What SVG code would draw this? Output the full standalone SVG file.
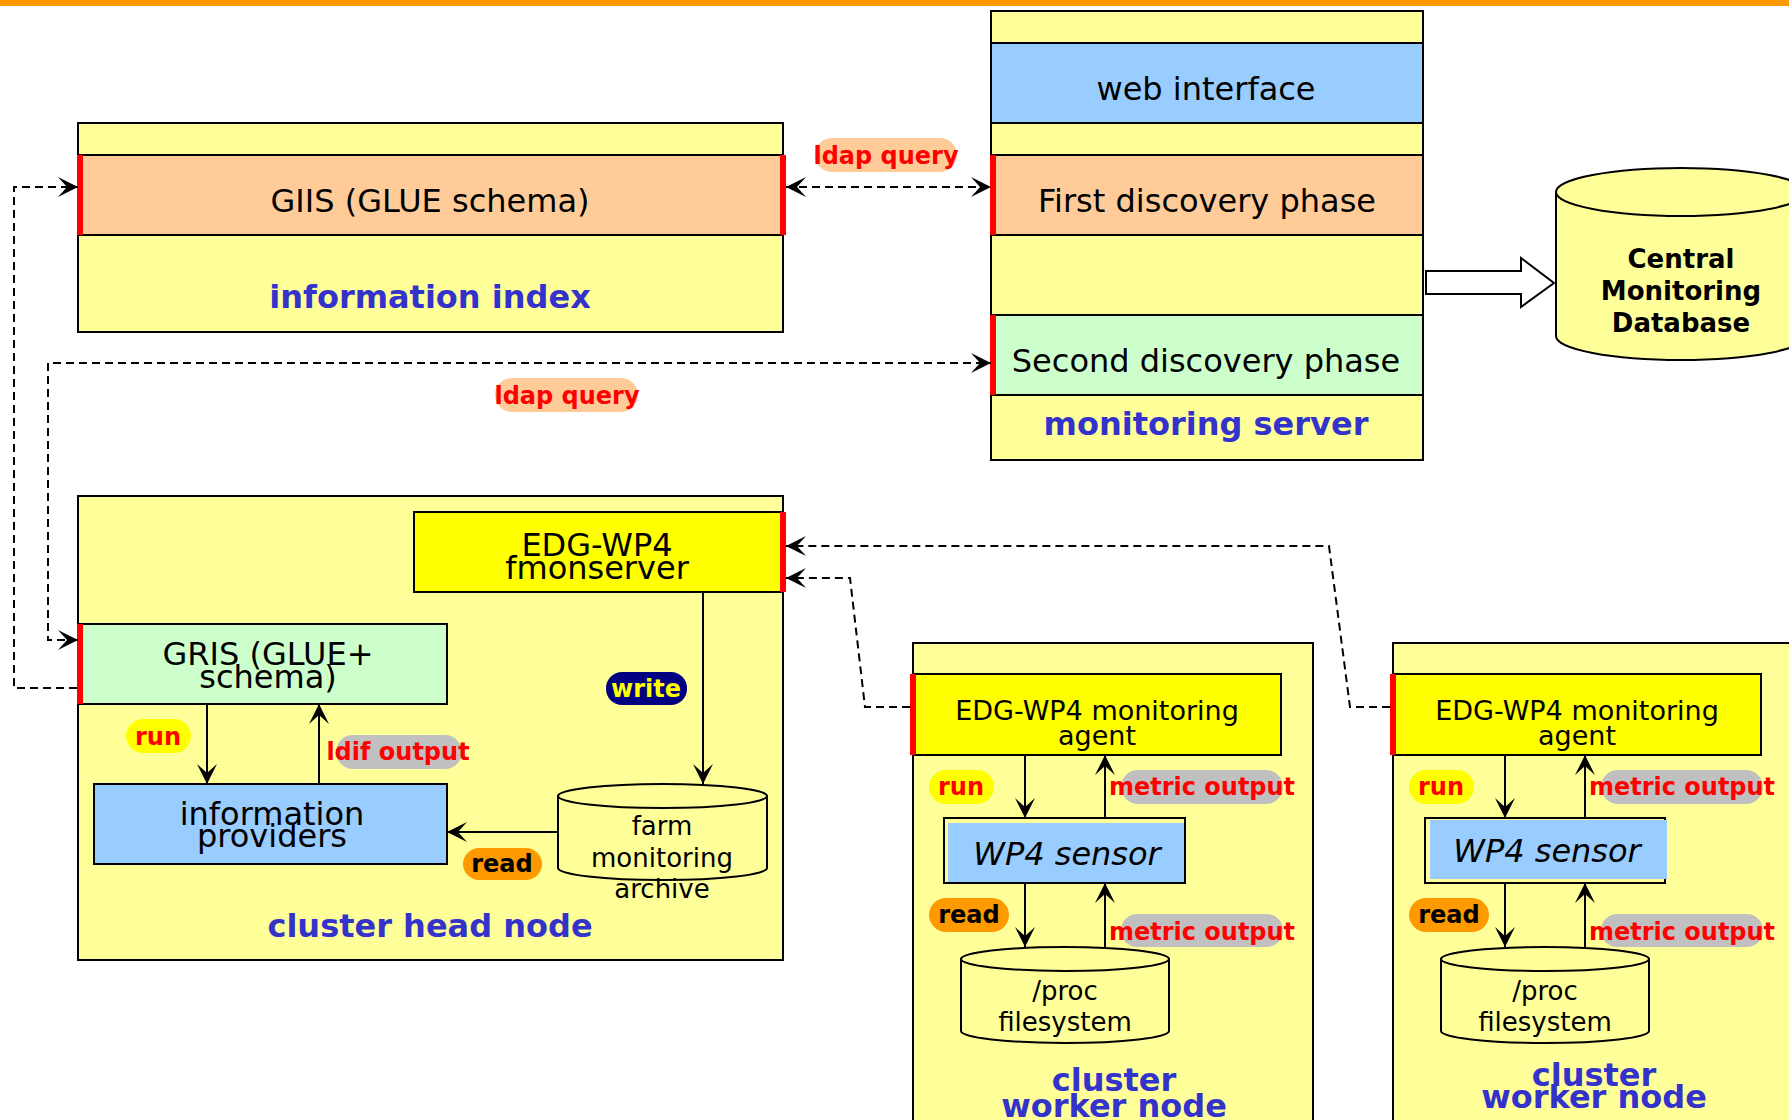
<svg xmlns="http://www.w3.org/2000/svg" width="1789" height="1120" viewBox="0 0 1789 1120">
<defs>
<style>
text{font-family:"DejaVu Sans",Verdana,sans-serif}
.t{font-size:32px;fill:#000;text-anchor:middle}
.ts{font-size:27px;fill:#000;text-anchor:middle}
.tc{font-size:26px;fill:#000;text-anchor:middle}
.lbl{font-size:32px;font-weight:bold;fill:#3333CC;text-anchor:middle}
.pl{font-size:24px;font-weight:bold;text-anchor:middle}
.box{stroke:#000;stroke-width:2}
.bg{fill:#FFFF99}
.red{fill:#FF0000}
.dash{fill:none;stroke:#000;stroke-width:2;stroke-dasharray:8 5}
.solid{fill:none;stroke:#000;stroke-width:2}
</style>
<marker id="ah" viewBox="0 0 20 20" refX="20" refY="10" markerWidth="20" markerHeight="20" markerUnits="userSpaceOnUse" orient="auto-start-reverse">
<path d="M0,0 L20,10 L0,20 L9,10 z" fill="#000"/>
</marker>
</defs>
<rect x="0" y="0" width="1789" height="6" fill="#FF9900"/>

<g id="information-index">
<rect class="box bg" x="78" y="123" width="705" height="209"/>
<rect class="box" x="78" y="155" width="705" height="80" fill="#FFCC99"/>
<rect class="red" x="77" y="155" width="6" height="80"/>
<rect class="red" x="780" y="155" width="6" height="80"/>
<text class="t" x="430" y="212" font-size="33">GIIS (GLUE schema)</text>
<text class="lbl" x="430" y="308">information index</text>
</g>

<g id="monitoring-server">
<rect class="box bg" x="991" y="11" width="432" height="449"/>
<rect class="box" x="991" y="43" width="432" height="80" fill="#99CCFF"/>
<rect class="box" x="991" y="155" width="432" height="80" fill="#FFCC99"/>
<rect class="box" x="991" y="315" width="432" height="80" fill="#CCFFCC"/>
<rect class="red" x="990" y="155" width="6" height="80"/>
<rect class="red" x="990" y="315" width="6" height="80"/>
<text class="t" x="1206" y="100">web interface</text>
<text class="t" x="1207" y="212">First discovery phase</text>
<text class="t" x="1206" y="372">Second discovery phase</text>
<text class="lbl" x="1206" y="435">monitoring server</text>
</g>

<g id="central-db">
<path class="box bg" d="M1556,192 V336 A125,24 0 0 0 1806,336 V192 Z"/>
<ellipse class="box bg" cx="1681" cy="192" rx="125" ry="24"/>
<text x="1681" y="268" font-size="26" font-weight="bold" text-anchor="middle">Central</text>
<text x="1681" y="300" font-size="26" font-weight="bold" text-anchor="middle">Monitoring</text>
<text x="1681" y="332" font-size="26" font-weight="bold" text-anchor="middle">Database</text>
</g>

<g id="block-arrow">
<polygon class="box" fill="#FFFFFF" points="1426,271 1521,271 1521,258 1554,283 1521,307 1521,294 1426,294"/>
</g>

<g id="cluster-head-node">
<rect class="box bg" x="78" y="496" width="705" height="464"/>
<text class="lbl" x="430" y="937">cluster head node</text>
</g>

<g id="fmonserver">
<rect class="box" x="414" y="512" width="369" height="80" fill="#FFFF00"/>
<rect class="red" x="780" y="512" width="6" height="80"/>
<text class="t" x="597" y="556">EDG-WP4</text>
<text class="t" x="597" y="579">fmonserver</text>
</g>

<g id="gris">
<rect class="box" x="78" y="624" width="369" height="80" fill="#CCFFCC"/>
<rect class="red" x="77" y="624" width="6" height="80"/>
<text class="t" x="268" y="665">GRIS (GLUE+</text>
<text class="t" x="268" y="688">schema)</text>
</g>

<g id="information-providers">
<rect class="box" x="94" y="784" width="353" height="80" fill="#99CCFF"/>
<text class="t" x="272" y="825">information</text>
<text class="t" x="272" y="847">providers</text>
</g>

<g id="farm-archive">
<path class="box bg" d="M558,796 V868 A104.5,12 0 0 0 767,868 V796 Z"/>
<ellipse class="box bg" cx="662.5" cy="796" rx="104.5" ry="12"/>
<text class="tc" x="662" y="835">farm</text>
<text class="tc" x="662" y="867">monitoring</text>
<text class="tc" x="662" y="898">archive</text>
</g>

<g id="worker-node-1">
<rect class="box bg" x="913" y="643" width="400" height="500"/>
<text class="lbl" x="1114" y="1091">cluster</text>
<text class="lbl" x="1114" y="1117">worker node</text>
</g>
<g id="agent-1">
<rect class="box" x="913" y="674" width="368" height="81" fill="#FFFF00"/>
<rect class="red" x="910" y="674" width="6" height="81"/>
<text class="ts" x="1097" y="720">EDG-WP4 monitoring</text>
<text class="ts" x="1097" y="745">agent</text>
</g>
<g id="sensor-1">
<rect class="box bg" x="944" y="818" width="241" height="65"/>
<rect x="948" y="823" width="236" height="59" fill="#99CCFF"/>
<text class="t" x="1067" y="865" font-style="italic">WP4 sensor</text>
</g>
<g id="proc-1">
<path class="box bg" d="M961,959 V1031 A104,12 0 0 0 1169,1031 V959 Z"/>
<ellipse class="box bg" cx="1065" cy="959" rx="104" ry="12"/>
<text class="tc" x="1065" y="1000">/proc</text>
<text class="tc" x="1065" y="1031">filesystem</text>
</g>

<g id="worker-node-2">
<rect class="box bg" x="1393" y="643" width="420" height="500"/>
<text class="lbl" x="1594" y="1086">cluster</text>
<text class="lbl" x="1594" y="1108">worker node</text>
</g>
<g id="agent-2">
<rect class="box" x="1393" y="674" width="368" height="81" fill="#FFFF00"/>
<rect class="red" x="1390" y="674" width="6" height="81"/>
<text class="ts" x="1577" y="720">EDG-WP4 monitoring</text>
<text class="ts" x="1577" y="745">agent</text>
</g>
<g id="sensor-2">
<rect class="box bg" x="1425" y="818" width="240" height="65"/>
<rect x="1430" y="820" width="237" height="59" fill="#99CCFF"/>
<text class="t" x="1547" y="862" font-style="italic">WP4 sensor</text>
</g>
<g id="proc-2">
<path class="box bg" d="M1441,959 V1031 A104,12 0 0 0 1649,1031 V959 Z"/>
<ellipse class="box bg" cx="1545" cy="959" rx="104" ry="12"/>
<text class="tc" x="1545" y="1000">/proc</text>
<text class="tc" x="1545" y="1031">filesystem</text>
</g>

<g id="connectors">
<path class="dash" d="M77,688 H14 V187 H78" marker-end="url(#ah)"/>
<path class="dash" d="M78,640 H48 V363 H991" marker-start="url(#ah)" marker-end="url(#ah)"/>
<path class="dash" d="M786,187 H991" marker-start="url(#ah)" marker-end="url(#ah)"/>
<path class="dash" d="M910,707 H865 L850,578 H786" marker-end="url(#ah)"/>
<path class="dash" d="M1390,707 H1350 L1329,546 H786" marker-end="url(#ah)"/>
<path class="solid" d="M207,704 V784" marker-end="url(#ah)"/>
<path class="solid" d="M319,784 V704" marker-end="url(#ah)"/>
<path class="solid" d="M703,592 V784" marker-end="url(#ah)"/>
<path class="solid" d="M558,832 H447" marker-end="url(#ah)"/>
<path class="solid" d="M1025,755 V818" marker-end="url(#ah)"/>
<path class="solid" d="M1105,818 V755" marker-end="url(#ah)"/>
<path class="solid" d="M1025,883 V947" marker-end="url(#ah)"/>
<path class="solid" d="M1105,947 V883" marker-end="url(#ah)"/>
<path class="solid" d="M1505,755 V818" marker-end="url(#ah)"/>
<path class="solid" d="M1585,818 V755" marker-end="url(#ah)"/>
<path class="solid" d="M1505,883 V947" marker-end="url(#ah)"/>
<path class="solid" d="M1585,947 V883" marker-end="url(#ah)"/>
</g>

<g id="labels">
<rect x="815" y="138" width="142" height="34" rx="17" fill="#FFCC99"/>
<text class="pl" x="886" y="164" fill="#FF0000">ldap query</text>
<rect x="495" y="378" width="143" height="34" rx="17" fill="#FFCC99"/>
<text class="pl" x="567" y="404" fill="#FF0000">ldap query</text>
<rect x="126" y="719" width="65" height="34" rx="17" fill="#FFFF00"/>
<text class="pl" x="158" y="745" fill="#FF0000">run</text>
<rect x="336" y="735" width="126" height="34" rx="17" fill="#C0C0C0"/>
<text class="pl" x="398" y="760" fill="#FF0000">ldif output</text>
<rect x="606" y="672" width="81" height="33" rx="16" fill="#000080"/>
<text class="pl" x="646" y="697" fill="#FFFF00">write</text>
<rect x="463" y="848" width="79" height="32" rx="16" fill="#FF9900"/>
<text class="pl" x="502" y="872" fill="#000">read</text>

<rect x="929" y="770" width="65" height="34" rx="17" fill="#FFFF00"/>
<text class="pl" x="961" y="795" fill="#FF0000">run</text>
<rect x="1121" y="770" width="162" height="34" rx="17" fill="#C0C0C0"/>
<text class="pl" x="1202" y="795" fill="#FF0000">metric output</text>
<rect x="929" y="898" width="80" height="34" rx="17" fill="#FF9900"/>
<text class="pl" x="969" y="923" fill="#000">read</text>
<rect x="1121" y="914" width="162" height="33" rx="16" fill="#C0C0C0"/>
<text class="pl" x="1202" y="940" fill="#FF0000">metric output</text>

<rect x="1409" y="770" width="65" height="34" rx="17" fill="#FFFF00"/>
<text class="pl" x="1441" y="795" fill="#FF0000">run</text>
<rect x="1601" y="770" width="162" height="34" rx="17" fill="#C0C0C0"/>
<text class="pl" x="1682" y="795" fill="#FF0000">metric output</text>
<rect x="1409" y="898" width="80" height="34" rx="17" fill="#FF9900"/>
<text class="pl" x="1449" y="923" fill="#000">read</text>
<rect x="1601" y="914" width="162" height="33" rx="16" fill="#C0C0C0"/>
<text class="pl" x="1682" y="940" fill="#FF0000">metric output</text>
</g>
</svg>
